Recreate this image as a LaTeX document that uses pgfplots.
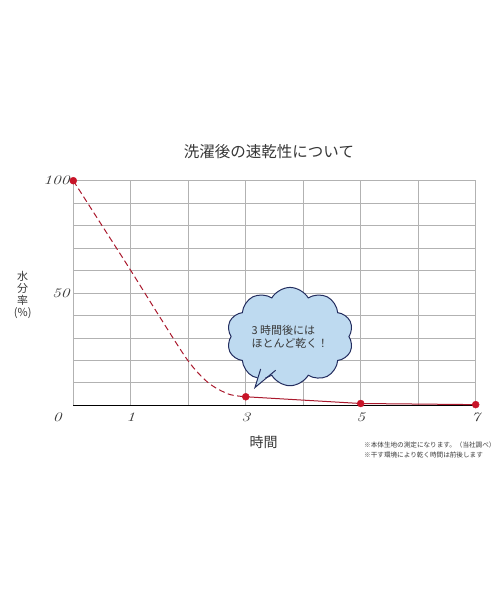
\documentclass[border=0pt]{standalone}
\usepackage{fontspec}
\usepackage{pgfplots}
\pgfplotsset{compat=1.18}
\usetikzlibrary{shapes.symbols}
\newfontfamily\jp{Noto Sans CJK JP}
\newfontfamily\tickfont{Latin Modern Roman}[FakeStretch=1.35]
\definecolor{curvered}{RGB}{170,25,45}
\definecolor{dotred}{RGB}{200,20,40}
\definecolor{gridgray}{RGB}{178,178,178}
\definecolor{cloudfill}{RGB}{190,218,240}
\definecolor{cloudline}{RGB}{35,45,95}
\definecolor{textgray}{RGB}{55,55,55}

\begin{document}
\begin{tikzpicture}
\path[use as bounding box] (0,0) rectangle (500pt,600pt);

\begin{axis}[
    at={(73.3pt,194.7pt)}, anchor=south west,
    scale only axis, width=402.4pt, height=224.6pt,
    xmin=0, xmax=7, ymin=0, ymax=100,
    axis x line*=bottom, axis y line*=left,
    axis line style={black, line width=1.3pt},
    xtick={1,2,3,4,5,6,7},
    xticklabels={1,,3,,5,,7},
    extra x ticks={0},
    extra x tick labels={0},
    extra x tick style={xticklabel style={xshift=-16pt}},
    ytick={0,10,...,100},
    yticklabels={,,,,,50,,,,,100},
    grid=major,
    grid style={gridgray, line width=0.8pt},
    major tick length=0pt,
    tick label style={font=\tickfont\itshape\fontsize{13}{13}\selectfont, text=textgray},
    xticklabel style={yshift=-4pt},
    /pgf/number format/assume math mode=true,
    clip=false,
]

% drying curve, first three hours
\addplot[curvered, line width=1pt, dash pattern=on 6pt off 3.5pt, smooth, tension=0.5]
    coordinates {(0,100) (0.5,80) (1,60) (1.5,39.5) (2,19.7) (2.35,10) (2.7,5) (3,3.8)};

% after three hours
\addplot[curvered, line width=1pt] coordinates {(3,3.8) (5,0.8) (7,0.3)};

% measured points
\addplot[only marks, mark=*, mark size=3.5pt, dotred] coordinates {(0,100) (3,3.8) (5,0.8) (7,0.3)};

% callout
\node[cloud, cloud puffs=10, cloud puff arc=120, aspect=1.45,
      minimum width=104pt, minimum height=74pt,
      fill=cloudfill, draw=cloudline, line width=1pt,
      align=left, font=\jp\fontsize{11}{12.5}\selectfont, text=textgray]
    at (axis cs:3.77,30.6) {3 時間後には\\ほとんど乾く！};
\fill[cloudfill] (axis cs:3.26,17.5) -- (axis cs:3.16,7.9) -- (axis cs:3.55,17.5) -- cycle;
\draw[cloudline, line width=1pt, line join=miter]
    (axis cs:3.26,16.2) -- (axis cs:3.16,7.9) -- (axis cs:3.52,15.6);
\end{axis}

\node[font=\jp\fontsize{15.5}{16}\selectfont, text=textgray] at (269pt,448pt) {洗濯後の速乾性について};
\node[font=\jp\fontsize{14}{14}\selectfont, text=textgray] at (263.5pt,157.5pt) {時間};
\node[font=\jp\fontsize{11}{12}\selectfont, text=textgray, align=center, inner sep=0pt]
    at (22.7pt,305pt) {水\\分\\率\\(\%)};
\node[font=\jp\fontsize{6.6}{10}\selectfont, text=textgray, align=left, anchor=west, inner sep=0pt]
    at (364pt,150pt) {※本体生地の測定になります。（当社調べ）\\※干す環境により乾く時間は前後します};
\end{tikzpicture}
\end{document}
